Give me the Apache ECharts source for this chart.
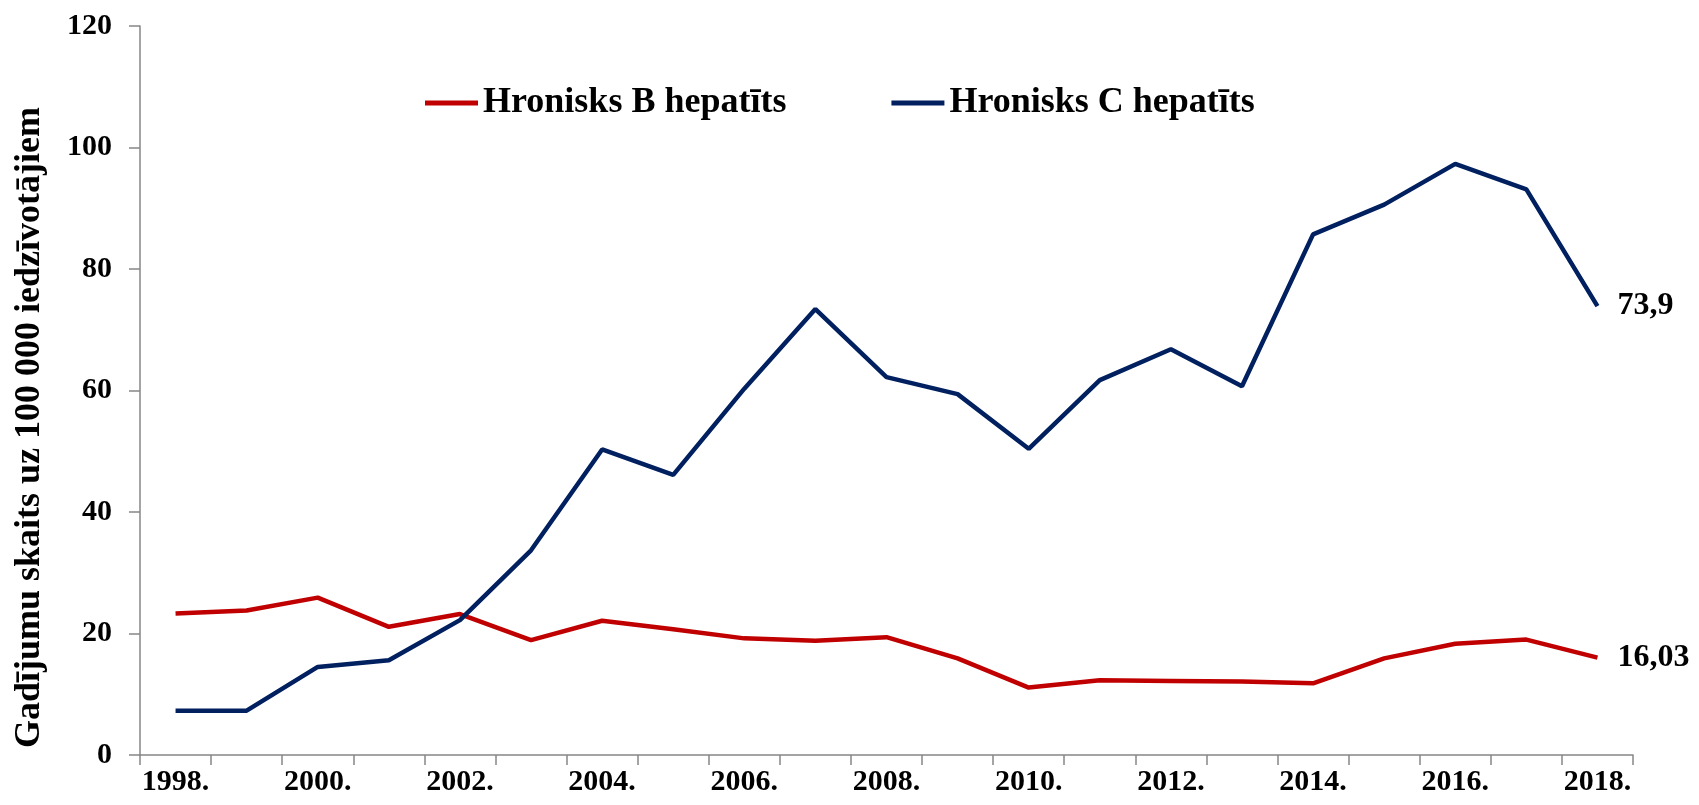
<!DOCTYPE html>
<html>
<head>
<meta charset="utf-8">
<script src="https://cdn.jsdelivr.net/npm/echarts@6/dist/echarts.min.js"></script>
<style>
  html, body { margin: 0; padding: 0; background: #fff; }
  #chart { width: 1699px; height: 805px; }
</style>
</head>
<body>
<div id="chart"></div>
<script>
// Gadījumu skaits uz 100 000 iedzīvotājiem, 1998.–2018.
const years = ['1998.', '1999.', '2000.', '2001.', '2002.', '2003.', '2004.', '2005.', '2006.', '2007.',
  '2008.', '2009.', '2010.', '2011.', '2012.', '2013.', '2014.', '2015.', '2016.', '2017.', '2018.'];

const hepB = [23.3, 23.8, 25.9, 21.1, 23.2, 18.9, 22.1, 20.7, 19.2, 18.8,
  19.4, 15.9, 11.1, 12.3, 12.2, 12.1, 11.8, 15.9, 18.3, 19.0, 16.03];

const hepC = [7.3, 7.3, 14.5, 15.6, 22.2, 33.7, 50.3, 46.1, 60.3, 73.4,
  62.2, 59.4, 50.4, 61.7, 66.8, 60.7, 85.7, 90.6, 97.3, 93.1, 73.9];

const yTicks = { min: 0, max: 120, interval: 20 };

const seriesNames = ['Hronisks B hepatīts', 'Hronisks C hepatīts'];
const colors = ['#C00000', '#002060'];

const serif = "'Liberation Serif', 'Times New Roman', serif";

const chart = echarts.init(document.getElementById('chart'));

function endLabel() {
  return {
    show: true,
    distance: 20,
    fontFamily: serif,
    fontWeight: 'bold',
    fontSize: 32,
    color: '#000',
    formatter: p => String(p.value).replace('.', ',')
  };
}

chart.setOption({
  animation: false,
  backgroundColor: '#fff',
  grid: { left: 140, right: 66, top: 26, bottom: 50, containLabel: false },
  legend: {
    data: seriesNames,
    left: 420,
    top: 80,
    icon: 'rect',
    itemWidth: 53,
    itemHeight: 5,
    itemGap: 105,
    textStyle: { fontFamily: serif, fontWeight: 'bold', fontSize: 36, color: '#000' }
  },
  xAxis: {
    type: 'category',
    data: years,
    boundaryGap: true,
    axisLine: { lineStyle: { color: '#868686', width: 1.5 } },
    axisTick: { show: true, interval: 0, length: 10, lineStyle: { color: '#868686', width: 1.5 } },
    axisLabel: {
      interval: 1,
      margin: 12,
      fontFamily: serif,
      fontWeight: 'bold',
      fontSize: 30,
      color: '#000'
    },
    splitLine: { show: false }
  },
  yAxis: {
    type: 'value',
    min: yTicks.min,
    max: yTicks.max,
    interval: yTicks.interval,
    name: 'Gadījumu skaits uz 100 000 iedzīvotājiem',
    nameLocation: 'middle',
    nameRotate: 90,
    nameGap: 92,
    nameTextStyle: {
      fontFamily: serif,
      fontWeight: 'bold',
      fontSize: 36,
      color: '#000',
      padding: [0, 74, 0, 0]
    },
    axisLine: { show: true, lineStyle: { color: '#868686', width: 1.5 } },
    axisTick: { show: true, length: 11, lineStyle: { color: '#868686', width: 1.5 } },
    axisLabel: {
      margin: 28,
      fontFamily: serif,
      fontWeight: 'bold',
      fontSize: 30,
      color: '#000'
    },
    splitLine: { show: false }
  },
  series: [
    {
      name: seriesNames[0],
      type: 'line',
      data: hepB,
      symbol: 'none',
      color: colors[0],
      lineStyle: { color: colors[0], width: 4.5 },
      endLabel: endLabel()
    },
    {
      name: seriesNames[1],
      type: 'line',
      data: hepC,
      symbol: 'none',
      color: colors[1],
      lineStyle: { color: colors[1], width: 4.5 },
      endLabel: endLabel()
    }
  ]
});
</script>
</body>
</html>
